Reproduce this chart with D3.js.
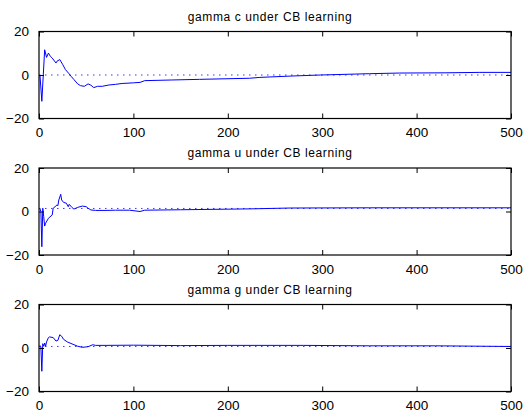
<!DOCTYPE html>
<html>
<head>
<meta charset="utf-8">
<script src="https://cdn.jsdelivr.net/npm/d3@7"></script>
<style>
  body { margin: 0; background: #fff; }
  text { font-family: "Liberation Sans", Arial, sans-serif; fill: #000; }
</style>
</head>
<body>
<div id="canvas"></div>
<script>
// Panel titles
var titles = ["gamma c under CB learning", "gamma u under CB learning", "gamma g under CB learning"];

var tC = [1, 3, 6, 8, 10, 12, 14, 18, 19, 22, 25, 28, 32, 34, 37, 41, 44, 48, 52, 55, 58, 62, 67, 74, 81, 88, 100, 107, 112, 140, 170, 223, 234, 266, 298, 350, 382, 430, 467, 500];
var vC = [0, -12.1, 11.6, 8.1, 10.1, 8.6, 7.8, 5.5, 6.3, 7.1, 4.9, 2.5, 0.5, -0.6, -2.1, -4.1, -4.9, -5.2, -4.1, -4.7, -5.8, -5.2, -5.2, -4.6, -4.3, -3.9, -3.6, -3.4, -2.6, -2.3, -2.0, -1.5, -1.1, -0.5, 0, 0.6, 0.9, 1.0, 1.2, 1.2];

var tU = [1, 2, 3, 4, 5, 6, 7, 10, 14, 15, 17, 19, 20, 21, 23, 24, 26, 29, 31, 32, 35, 37, 41, 46, 50, 52, 55, 60, 71, 81, 96, 107, 112, 150, 223, 266, 350, 500];
var vU = [1.3, 0, -16.2, 1.5, -2.4, -6.7, -5.4, -3.1, -1.6, 1.5, 2.2, 3.0, 2.7, 5.3, 7.9, 5.3, 4.2, 3.8, 2.2, 3.3, 1.8, 1.1, 1.9, 2.5, 2.2, 1.5, 0.7, 0.5, 0.5, 0.6, 0.6, 0.0, 0.6, 0.8, 1.2, 1.6, 1.7, 1.7];

var tG = [1, 2, 3, 4, 5, 6, 7, 8, 10, 11, 15, 18, 20, 22, 24, 26, 30, 36, 41, 46, 52, 57, 60, 71, 100, 150, 200, 280, 350, 420, 500];
var vG = [1.2, 0.5, -10.7, 2.0, 0.8, 2.3, 0.8, 2.8, 4.8, 5.1, 4.8, 3.2, 3.5, 6.1, 5.4, 4.0, 2.8, 1.7, 0.8, 0.3, 0.6, 1.5, 1.2, 1.2, 1.3, 1.1, 1.2, 1.2, 1.0, 1.0, 0.7];

// Dotted reference levels
var refLevels = [0, 1.4, 0.7];

var xTicks = [0, 100, 200, 300, 400, 500];
var yTicks = [-20, 0, 20];

var series = [[tC, vC], [tU, vU], [tG, vG]];

var W = 523, H = 416;
var left = 39, right = 511, panelH = 87;
var tops = [31.5, 168, 304.5];

var svg = d3.select("#canvas").append("svg")
  .attr("width", W)
  .attr("height", H);

var x = d3.scaleLinear().domain([0, 500]).range([left, right]);

series.forEach(function (s, i) {
  var top = tops[i];
  var y = d3.scaleLinear().domain([-20, 20]).range([top + panelH, top]);
  var g = svg.append("g");

  // Title
  g.append("text")
    .attr("x", (left + right) / 2 - 5)
    .attr("y", top - 11)
    .attr("text-anchor", "middle")
    .style("font-size", "12px")
    .style("letter-spacing", "0.6px")
    .text(titles[i]);

  // Dotted reference line
  g.append("line")
    .attr("x1", x(0)).attr("x2", x(500))
    .attr("y1", y(refLevels[i])).attr("y2", y(refLevels[i]))
    .style("stroke", "#3b3bff")
    .style("stroke-width", 1)
    .style("stroke-dasharray", "1.5,4.5");

  // Data line
  var pts = s[0].map(function (t, k) { return [t, s[1][k]]; });
  g.append("path")
    .datum(pts)
    .attr("d", d3.line()
      .x(function (d) { return x(d[0]); })
      .y(function (d) { return y(d[1]); }))
    .style("fill", "none")
    .style("stroke", "#0000ff")
    .style("stroke-width", 1);

  // Axes, ticks pointing inward like matlab
  g.append("g")
    .attr("transform", "translate(0," + (top + panelH) + ")")
    .call(d3.axisBottom(x).tickValues(xTicks).tickSizeInner(-5).tickSizeOuter(0).tickPadding(9))
    .call(styleAxis);
  g.append("g")
    .attr("transform", "translate(0," + top + ")")
    .call(d3.axisTop(x).tickValues(xTicks).tickSizeInner(-5).tickSizeOuter(0).tickFormat(""))
    .call(styleAxis);
  g.append("g")
    .attr("transform", "translate(" + left + ",0)")
    .call(d3.axisLeft(y).tickValues(yTicks).tickSizeInner(-5).tickSizeOuter(0).tickPadding(10))
    .call(styleAxis);
  g.append("g")
    .attr("transform", "translate(" + right + ",0)")
    .call(d3.axisRight(y).tickValues(yTicks).tickSizeInner(-5).tickSizeOuter(0).tickFormat(""))
    .call(styleAxis);

  // Box
  g.append("rect")
    .attr("x", left).attr("y", top)
    .attr("width", right - left).attr("height", panelH)
    .style("fill", "none")
    .style("stroke", "#000")
    .style("stroke-width", 1.2);
});

function styleAxis(sel) {
  sel.select(".domain").remove();
  sel.selectAll(".tick line").style("stroke", "#000");
  sel.selectAll(".tick text")
    .style("font-size", "13.5px")
    .style("font-family", "'Liberation Sans', Arial, sans-serif")
    .style("fill", "#000");
}
</script>
</body>
</html>
